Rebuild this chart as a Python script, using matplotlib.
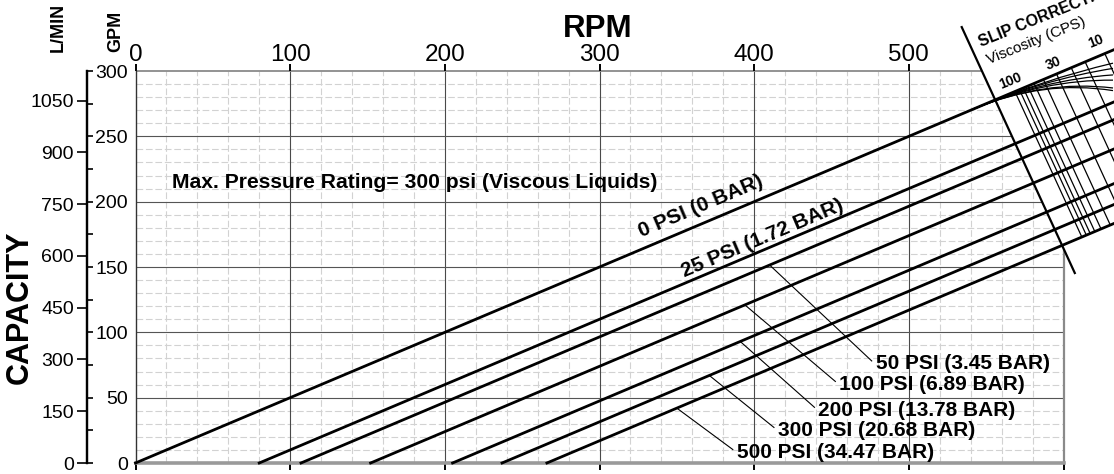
import numpy as np
import matplotlib.pyplot as plt
from matplotlib.patches import Polygon, PathPatch
from matplotlib.path import Path
from matplotlib.ticker import MultipleLocator

plt.rcParams['font.family'] = ['Liberation Sans', 'DejaVu Sans']

W, H = 1114, 474

# capacity lines (GPM against RPM), one per discharge pressure
pressure_names = ['0 PSI (0 BAR)', '25 PSI (1.72 BAR)', '50 PSI (3.45 BAR)', '100 PSI (6.89 BAR)',
                  '200 PSI (13.78 BAR)', '300 PSI (20.68 BAR)', '500 PSI (34.47 BAR)']
start_rpm = [0, 80, 107, 152, 205, 237, 266]        # where each line leaves 0 GPM
end_rpm = 640                                       # lines run off the right edge
end_gpm = [320, 280, 266.5, 244, 217.5, 201.5, 187]

# the two top lines are labelled along the line
along_pos = [(327, 173), (355, 142)]

# the others get a callout with a leader line
callout_rpm = [410, 394, 391, 371, 350]             # where the leader touches its line
callout_pos = [(478.5, 71.6), (455, 55.9), (441.5, 36.1), (415.3, 20.7), (388.7, 3.8)]

# slip correction nomograph on the right
slip_axis = [(534.2, 333.6), (607.3, 145.4)]
visc_rpm = [568.6, 571.5, 574, 577, 581, 587, 595.5, 605, 614, 626.7]  # start on the 0 PSI line
visc_labels = ['100', '30', '10']
visc_label_pos = [(559.5, 286.5), (589.5, 301), (617, 317.5)]
fan_start_rpm = 542
fan_end_rpm = 632
fan_end_gpm = [306, 302, 297, 293, 287, 285]

rpm_ticks = np.arange(0, 601, 100)
gpm_ticks = np.arange(0, 301, 50)
lpm_ticks = np.arange(0, 1051, 150)
LPM_PER_GPM = 3.785

fig = plt.figure(figsize=(W / 100, H / 100), dpi=100)
ax = fig.add_axes([135.5 / W, 11 / H, 928 / W, 392 / H])
ax.set_xlim(0, 600)
ax.set_ylim(0, 300)

# grid only lives left of the slip axis
(sx0, sy0), (sx1, sy1) = slip_axis
def slip_rpm_at(g):
    return sx0 + (g - sy0) * (sx1 - sx0) / (sy1 - sy0)
def slip_gpm_at(r):
    return sy0 + (r - sx0) * (sy1 - sy0) / (sx1 - sx0)

clip = Polygon([(-10, -10), (610, -10), (610, slip_gpm_at(610)),
                (slip_rpm_at(310), 310), (-10, 310)], closed=True, transform=ax.transData)

def clipped(coll):
    coll.set_clip_path(clip)
    coll.set_clip_box(None)

minor_x = [v for v in np.arange(20, 600, 20) if v % 100]
minor_y = [v for v in np.arange(10, 300, 10) if v % 50]
clipped(ax.vlines(minor_x, 0, 300, color='#d2d2d2', lw=0.8, linestyles=(0, (6, 2.5)), zorder=0.5))
clipped(ax.hlines(minor_y, 0, 600, color='#d2d2d2', lw=0.8, linestyles=(0, (6, 2.5)), zorder=0.5))
clipped(ax.vlines(rpm_ticks[1:-1], 0, 300, color='#4a4a4a', lw=0.8, zorder=0.6))
clipped(ax.hlines(gpm_ticks[1:-1], 0, 600, color='#555555', lw=0.8, zorder=0.6))
clipped(ax.hlines(300, 0, 600, color='#8a8a8a', lw=1.3, zorder=0.7))
clipped(ax.vlines(600, 0, 300, color='#8a8a8a', lw=1.6, zorder=0.7))

for s in ['top', 'right']:
    ax.spines[s].set_visible(False)
ax.spines['left'].set_color('#333333')
ax.spines['left'].set_linewidth(1.0)
ax.spines['bottom'].set_color('#9a9a9a')
ax.spines['bottom'].set_linewidth(2.6)

ax.set_yticks([])
ax.set_xticks(rpm_ticks)
ax.set_xticklabels([str(v) for v in rpm_ticks[:-1]] + [''])
ax.xaxis.set_ticks_position('both')
ax.tick_params(axis='x', direction='out', length=5, width=1.4, color='black',
               labeltop=True, labelbottom=False, labelsize=17.5, pad=-1.2)
ax.xaxis.get_major_ticks()[-1].tick2line.set_visible(False)

# pressure lines
for x0, g1 in zip(start_rpm, end_gpm):
    ax.plot([x0, end_rpm], [0, g1], color='black', lw=2.0, clip_on=False, zorder=3)

def line_gpm(i, r):
    return np.interp(r, [start_rpm[i], end_rpm], [0, end_gpm[i]])

p = ax.transData.transform([(0, 0), (100, line_gpm(0, 100))])
angle = np.degrees(np.arctan2(p[1, 1] - p[0, 1], p[1, 0] - p[0, 0]))

for (x, y), name in zip(along_pos, pressure_names[:2]):
    ax.text(x, y, name, rotation=angle, rotation_mode='anchor', ha='left', va='baseline',
            fontsize=15, fontweight='bold', zorder=4)

for i, (r, (x, y)) in enumerate(zip(callout_rpm, callout_pos), start=2):
    ax.plot([r, x - 2.5], [line_gpm(i, r), y + 6.5], color='black', lw=0.8, zorder=3)
    ax.text(x, y, pressure_names[i], ha='left', va='baseline', fontsize=15,
            fontweight='bold', zorder=4)

ax.text(23.6, 210.4, 'Max. Pressure Rating= 300 psi (Viscous Liquids)', ha='left',
        va='baseline', fontsize=15.2, fontweight='bold', zorder=4)

# slip correction nomograph
ax.plot([sx0, sx1], [sy0, sy1], color='black', lw=1.6, clip_on=False, zorder=3)
dx, dy = sx1 - sx0, sy1 - sy0
m = end_gpm[-1] / (end_rpm - start_rpm[-1])
for r in visc_rpm:
    y0 = line_gpm(0, r)
    s = (m * (r - start_rpm[-1]) - y0) / (dy - m * dx)
    ax.plot([r, r + s * dx], [y0, y0 + s * dy], color='black', lw=0.9, clip_on=False, zorder=3)

fan_a = (fan_start_rpm, line_gpm(0, fan_start_rpm))
fan_c = ((fan_start_rpm + fan_end_rpm) / 2, line_gpm(0, (fan_start_rpm + fan_end_rpm) / 2))
for g in fan_end_gpm:
    path = Path([fan_a, fan_c, (fan_end_rpm, g)], [Path.MOVETO, Path.CURVE3, Path.CURVE3])
    ax.add_patch(PathPatch(path, fill=False, edgecolor='black', lw=0.9, clip_on=False, zorder=3))

ax.text(546.5, 318.5, 'SLIP CORRECTION', rotation=22, rotation_mode='anchor', ha='left',
        va='baseline', fontsize=11.5, fontweight='bold', clip_on=False)
ax.text(551.5, 305, 'Viscosity (CPS)', rotation=22, rotation_mode='anchor', ha='left',
        va='baseline', fontsize=11, clip_on=False)
for (x, y), t in zip(visc_label_pos, visc_labels):
    ax.text(x, y, t, rotation=22, rotation_mode='anchor', ha='left', va='baseline',
            fontsize=10, fontweight='bold', clip_on=False)

# capacity scales: GPM on the right of the spine, L/MIN on the left
ax_g = fig.add_axes([87 / W, 11 / H, 0.0001, 392 / H])
ax_g.set_ylim(0, 300)
ax_g.patch.set_visible(False)
for s in ['top', 'bottom', 'right']:
    ax_g.spines[s].set_visible(False)
ax_g.spines['left'].set_linewidth(1.6)
ax_g.set_xticks([])
ax_g.yaxis.tick_right()
ax_g.set_yticks(gpm_ticks)
ax_g.yaxis.set_minor_locator(MultipleLocator(25))
ax_g.tick_params(axis='y', which='both', direction='out', length=4.5, width=1.2,
                 labelsize=14, pad=25)
for t in ax_g.get_yticklabels():
    t.set_ha('right')

sec = ax_g.secondary_yaxis('left', functions=(lambda g: g * LPM_PER_GPM,
                                              lambda l: l / LPM_PER_GPM))
sec.set_yticks(lpm_ticks)
sec.tick_params(direction='out', length=7.5, width=1.2, labelsize=14, pad=2)
sec.spines['left'].set_linewidth(1.6)

fig.text(598 / W, 1 - 37 / H, 'RPM', ha='center', va='baseline', fontsize=22.5, fontweight='bold')
fig.text(58 / W, 1 - 27.5 / H, 'L/MIN', rotation=90, ha='center', va='center',
         fontsize=13, fontweight='bold')
fig.text(116 / W, 1 - 31 / H, 'GPM', rotation=90, ha='center', va='center',
         fontsize=13, fontweight='bold')
fig.text(20 / W, 1 - 307 / H, 'CAPACITY', rotation=90, ha='center', va='center',
         fontsize=22, fontweight='bold')

fig.savefig('out.png', dpi=100)
